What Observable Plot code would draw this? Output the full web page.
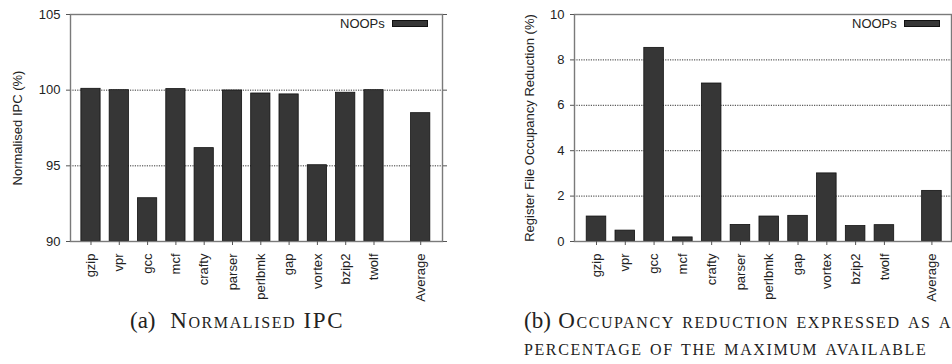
<!DOCTYPE html>
<html>
<head>
<meta charset="utf-8">
<script src="https://cdn.jsdelivr.net/npm/d3@7"></script>
<script src="https://cdn.jsdelivr.net/npm/@observablehq/plot@0.6"></script>
<style>
  html, body { margin: 0; padding: 0; background: #fff; }
  body { width: 952px; height: 364px; overflow: hidden; position: relative; font-family: "Liberation Sans", Arial, sans-serif; }
  .panel { position: absolute; top: 0; }
  .legend { position: absolute; top: 16px; height: 14px; display: flex; align-items: center; font-size: 13px; color: #222; }
  .legend .sw { width: 34px; height: 5px; background: #363636; border: 1px solid #111; margin-left: 7px; }
  .caption { position: absolute; font-family: "Liberation Serif", "DejaVu Serif", serif; font-variant: small-caps; font-size: 23px; letter-spacing: 1.6px; color: #222; line-height: 27px; white-space: nowrap; }
  .caption .lab { font-variant: normal; letter-spacing: 0; }
</style>
</head>
<body>
<div id="panelA" class="panel" style="left:0px"></div>
<div id="panelB" class="panel" style="left:476px"></div>
<div class="legend" style="left:340px"><span>NOOPs</span><div class="sw"></div></div>
<div class="legend" style="left:852px"><span>NOOPs</span><div class="sw"></div></div>
<div class="caption" style="left:130px; top:307px"><span class="lab">(a)</span>&nbsp; Normalised IPC</div>
<div class="caption" style="left:524px; top:307px"><span class="lab">(b)</span> Occupancy reduction expressed as a<br>percentage of the maximum available</div>
<script>
// ---- data ----
const benchmarks = ["gzip", "vpr", "gcc", "mcf", "crafty", "parser", "perlbmk", "gap", "vortex", "bzip2", "twolf", "Average"];
const ipcValues = [100.09, 100.0, 92.86, 100.07, 96.17, 99.98, 99.78, 99.72, 95.04, 99.83, 100.0, 98.48];
const occupancyValues = [1.10, 0.48, 8.53, 0.18, 6.96, 0.73, 1.10, 1.13, 3.0, 0.68, 0.72, 2.23];
const ipcTicks = [90, 95, 100, 105];
const ipcGrid = [95, 100];
const occTicks = [0, 2, 4, 6, 8, 10];
const occGrid = [2, 4, 6, 8];

// slot positions: Average sits after an extra gap
const slots = benchmarks.map((b, i) => (b === "Average" ? i + 0.65 : i));

function barChart({values, yDomain, yTicks, grid, yLabel, width, marginLeft, marginRight, xDomain, labelOffset}) {
  const data = benchmarks.map((name, i) => ({name, pos: slots[i], value: values[i]}));
  return Plot.plot({
    width,
    height: 320,
    marginTop: 14,
    marginBottom: 79,
    marginLeft,
    marginRight,
    style: {fontFamily: "'Liberation Sans', Arial, sans-serif", fontSize: "13px", color: "#222", background: "transparent", overflow: "visible"},
    x: {type: "linear", domain: xDomain},
    y: {domain: yDomain},
    marks: [
      Plot.ruleY(grid, {stroke: "#333", strokeWidth: 1, strokeDasharray: "1.2,1.2"}),
      Plot.rectY(data, {x1: d => d.pos - 0.34, x2: d => d.pos + 0.34, y1: yDomain[0], y2: "value", fill: "#363636", stroke: "#111", strokeWidth: 0.8}),
      Plot.frame({stroke: "#7a7a7a", strokeWidth: 1.4}),
      Plot.axisY({ticks: yTicks, tickSize: 4, tickPadding: 6, stroke: "#555", label: yLabel, labelAnchor: "center", labelArrow: "none", labelOffset}),
      Plot.axisY({anchor: "right", ticks: yTicks, tickSize: 4, stroke: "#555", tickFormat: () => "", label: null}),
      Plot.axisX({ticks: slots, tickFormat: d => benchmarks[slots.indexOf(d)], tickRotate: -90, tickSize: 4, tickPadding: 8, stroke: "#555", label: null})
    ]
  });
}

document.getElementById("panelA").append(barChart({
  values: ipcValues, yDomain: [90, 105], yTicks: ipcTicks, grid: ipcGrid,
  yLabel: "Normalised IPC (%)", width: 476, marginLeft: 70, marginRight: 34,
  xDomain: [-0.724, 12.42], labelOffset: 58
}));
document.getElementById("panelB").append(barChart({
  values: occupancyValues, yDomain: [0, 10], yTicks: occTicks, grid: occGrid,
  yLabel: "Register File Occupancy Reduction (%)", width: 476, marginLeft: 98, marginRight: 1,
  xDomain: [-0.764, 12.33], labelOffset: 50
}));
</script>
</body>
</html>
